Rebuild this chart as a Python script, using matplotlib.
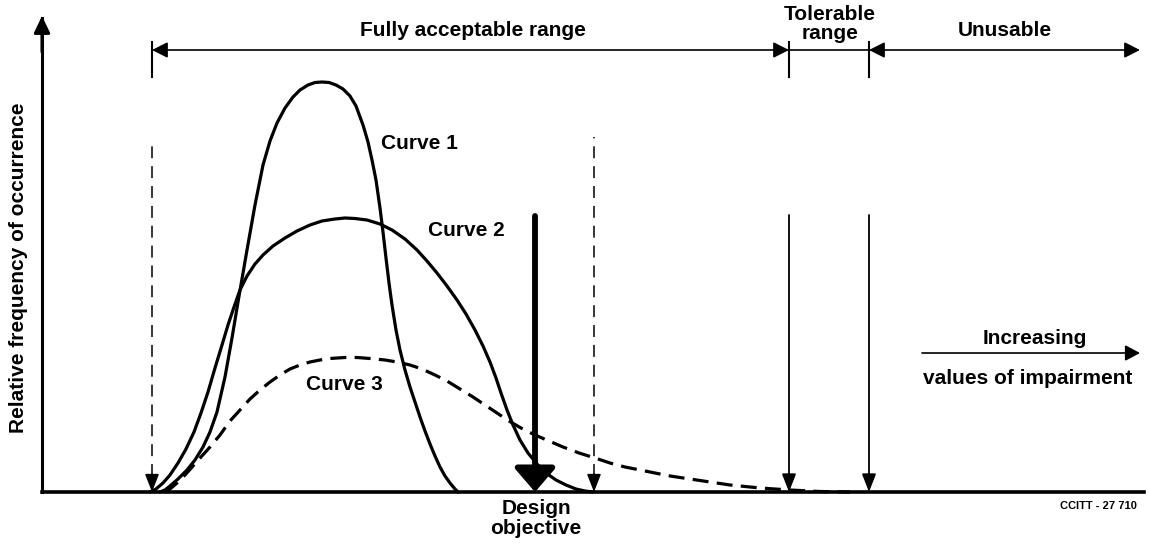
import numpy as np
import matplotlib
matplotlib.use("Agg")
import matplotlib.pyplot as plt

plt.rcParams['font.family'] = ['Liberation Sans', 'DejaVu Sans']

# curve points (x, height above the axis)
curve1_x = [160, 165, 170, 178, 187, 195, 203, 210, 217, 225, 232, 238, 247, 255, 263,
            270, 277, 285, 293, 300, 308, 315, 322, 329, 336, 343, 350, 356, 363, 368,
            372, 376, 380, 383, 386, 389, 392, 396, 400, 405, 410, 415, 420, 425, 430,
            435, 440, 445, 450, 455, 458]
curve1_y = [0, 2, 6, 13, 22, 32, 45, 60, 80, 115, 154, 190, 242, 287, 327,
            351, 369, 384, 395, 402, 407, 409.5, 410, 409.5, 407, 403, 396, 386, 367, 350,
            332, 312, 284, 260, 234, 209, 187, 162, 142, 122, 105, 90, 75, 61, 48,
            36, 25, 16, 9, 3, 0]

curve2_x = [150, 156, 163, 170, 178, 186, 194, 201, 208, 215, 222, 228, 234, 240, 247,
            255, 263, 273, 285, 297, 310, 322, 335, 345, 355, 367, 380, 392, 405, 417,
            427, 437, 447, 457, 466, 475, 483, 490, 496, 501, 507, 513, 520, 528, 537,
            546, 556, 566, 576, 585, 593]
curve2_y = [0, 3, 9, 17, 29, 43, 60, 79, 100, 124, 147, 167, 185, 202, 216,
            228, 237, 246, 254, 261, 267, 271, 273, 274, 273.5, 272, 268, 262, 253, 242,
            231, 219, 206, 192, 178, 162, 146, 130, 114, 99, 82, 67, 52, 39, 28,
            19, 12, 7, 3, 1, 0]

curve3_x = [165, 170, 177, 185, 193, 201, 210, 220, 230, 240, 250, 260, 270, 280, 290,
            300, 310, 320, 330, 345, 357, 370, 385, 397, 410, 422, 435, 447, 460, 473,
            485, 497, 509, 521, 535, 549, 563, 579, 595, 610, 625, 640, 655, 670, 690,
            710, 730, 760, 790, 820, 850]
curve3_y = [0, 3, 9, 17, 26, 35, 45, 57, 71, 82, 93, 102, 110, 117, 123,
            127, 130, 132, 133.5, 134.5, 134.5, 133.5, 132, 130, 127, 123, 117, 111, 103, 95,
            87, 79, 71, 64, 57, 51, 45, 39, 34, 29, 25, 22, 19, 16, 13,
            10, 7, 4, 2, 0.5, 0]

# markers along the impairment axis
dashed_limits = [152, 594]
design_objective = 535
tolerable_limits = [789, 869]
range_end = 1140

fig = plt.figure(figsize=(11.49, 5.44), dpi=100)
ax = fig.add_axes([42 / 1149, 52 / 544, 1102 / 1149, 474 / 544])
ax.set_xlim(42, 1144)
ax.set_ylim(0, 474)
ax.set_xticks([])
ax.set_yticks([])
for s in ['top', 'right']:
    ax.spines[s].set_visible(False)
ax.spines['bottom'].set_linewidth(2.6)
ax.spines['left'].set_linewidth(2.2)

# y axis arrow head
ax.annotate('', xy=(42, 476), xytext=(42, 440), annotation_clip=False,
            arrowprops=dict(arrowstyle='-|>,head_length=1.0,head_width=0.48',
                            mutation_scale=10, lw=2.2, color='black',
                            shrinkA=0, shrinkB=0))

# curves
ax.plot(curve1_x, curve1_y, color='black', lw=2.3, solid_capstyle='round',
        solid_joinstyle='round', clip_on=False)
ax.plot(curve2_x, curve2_y, color='black', lw=2.3, solid_capstyle='round',
        solid_joinstyle='round', clip_on=False)
ax.plot(curve3_x, curve3_y, color='black', lw=2.3, ls=(0, (5, 2.6)), clip_on=False)

thin_head = '-|>,head_length=1.1,head_width=0.43'

# dashed limit arrows
for x, top in zip(dashed_limits, [352, 355]):
    ax.plot([x, x], [16, top], color='black', lw=1.1, ls=(0, (7.8, 5.2)))
    ax.annotate('', xy=(x, 0), xytext=(x, 18),
                arrowprops=dict(arrowstyle=thin_head, mutation_scale=10, lw=1.1,
                                color='black', shrinkA=0, shrinkB=0))

# design objective
ax.annotate('', xy=(design_objective, 0), xytext=(design_objective, 276),
            arrowprops=dict(arrowstyle='-|>,head_length=1.45,head_width=1.25',
                            mutation_scale=10, lw=4.2, color='black',
                            shrinkA=0, shrinkB=0))

# tolerable limits
for x in tolerable_limits:
    ax.annotate('', xy=(x, 0), xytext=(x, 277),
                arrowprops=dict(arrowstyle=thin_head, mutation_scale=10, lw=1.3,
                                color='black', shrinkA=0, shrinkB=0))

# range bracket at the top
bar_y = 442
bracket = '<|-|>,head_length=0.95,head_width=0.48'
ax.annotate('', xy=(dashed_limits[0], bar_y), xytext=(tolerable_limits[0], bar_y),
            annotation_clip=False,
            arrowprops=dict(arrowstyle=bracket, mutation_scale=10, lw=1.2,
                            color='black', shrinkA=0, shrinkB=0))
ax.plot(tolerable_limits, [bar_y, bar_y], color='black', lw=1.2, clip_on=False)
ax.annotate('', xy=(tolerable_limits[1], bar_y), xytext=(range_end, bar_y),
            annotation_clip=False,
            arrowprops=dict(arrowstyle=bracket, mutation_scale=10, lw=1.2,
                            color='black', shrinkA=0, shrinkB=0))
for x in [dashed_limits[0]] + tolerable_limits:
    ax.plot([x, x], [415, 450], color='black', lw=1.5, clip_on=False)

# increasing impairment arrow
ax.annotate('', xy=(range_end, 139), xytext=(922, 139), annotation_clip=False,
            arrowprops=dict(arrowstyle='-|>,head_length=0.9,head_width=0.48',
                            mutation_scale=10, lw=1.2, color='black',
                            shrinkA=0, shrinkB=0))

fs = 15
kw = dict(fontsize=fs, fontweight='bold', color='black', clip_on=False)
ax.text(473, 462, 'Fully acceptable range', ha='center', va='center', **kw)
ax.text(830, 478, 'Tolerable', ha='center', va='center', **kw)
ax.text(830, 459, 'range', ha='center', va='center', **kw)
ax.text(1005, 462, 'Unusable', ha='center', va='center', **kw)
ax.text(381, 349, 'Curve 1', ha='left', va='center', **kw)
ax.text(428, 262, 'Curve 2', ha='left', va='center', **kw)
ax.text(344, 108, 'Curve 3', ha='center', va='center', **kw)
ax.text(1035, 154, 'Increasing', ha='center', va='center', **kw)
ax.text(1028, 114, 'values of impairment', ha='center', va='center', **kw)
ax.text(536, -16, 'Design', ha='center', va='center', **kw)
ax.text(536, -36, 'objective', ha='center', va='center', **kw)
ax.text(1137, -14, 'CCITT - 27 710', ha='right', va='center', fontsize=8,
        fontweight='bold', clip_on=False)
ax.text(19, 224, 'Relative frequency of occurrence', rotation=90, ha='center',
        va='center', **kw)

fig.savefig('out.png', dpi=100)
